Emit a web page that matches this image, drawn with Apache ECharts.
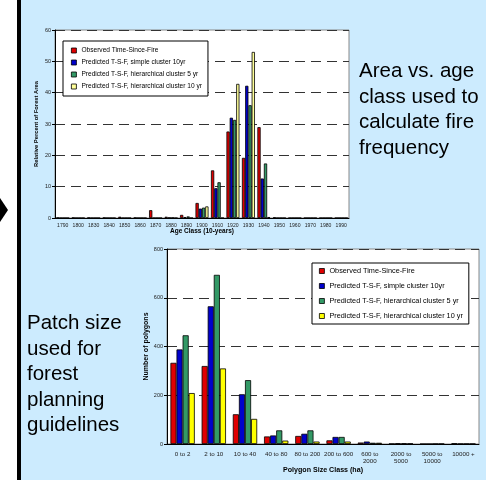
<!DOCTYPE html>
<html>
<head>
<meta charset="utf-8">
<script src="https://cdn.jsdelivr.net/npm/echarts@6/dist/echarts.min.js"></script>
<style>
  html, body { margin: 0; padding: 0; background: #fff; }
  #main { width: 486px; height: 480px; }
</style>
</head>
<body>
<div id="main"></div>
<script>
// age class chart
const ageClasses = ['1790', '1800', '1830', '1840', '1850', '1860', '1870', '1880', '1890', '1900',
  '1910', '1920', '1930', '1940', '1950', '1960', '1970', '1980', '1990'];
const obsAge     = [0.1, 0.1, 0.1, 0.1, 0.4, 0.1, 2.5, 0.4, 1.0, 4.8, 15.2, 27.6, 19.2, 29.0, 0.2, 0, 0, 0, 0];
const simpleAge  = [0, 0, 0, 0, 0, 0, 0, 0.1, 0.3, 3.0, 9.5, 32.0, 42.2, 12.6, 0, 0, 0, 0, 0];
const hier5Age   = [0, 0, 0, 0, 0, 0, 0, 0.1, 0.5, 3.3, 11.4, 31.3, 36.0, 17.4, 0, 0, 0, 0, 0];
const hier10Age  = [0, 0, 0, 0, 0, 0, 0, 0, 0, 3.7, 0, 42.8, 53.0, 0.3, 0, 0, 0, 0, 0];

// polygon size chart
const sizeClasses = ['0 to 2', '2 to 10', '10 to 40', '40 to 80', '80 to 200', '200 to 600',
  '600 to\n2000', '2000 to\n5000', '5000 to\n10000', '10000 +'];
const obsSize    = [333, 320, 122, 31, 33, 15, 6, 1, 0, 3];
const simpleSize = [388, 565, 204, 35, 42, 29, 10, 3, 0, 1];
const hier5Size  = [446, 694, 262, 56, 56, 29, 5, 3, 1, 1];
const hier10Size = [209, 310, 103, 14, 10, 10, 5, 2, 1, 1];

const seriesNames = ['Observed Time-Since-Fire', 'Predicted T-S-F, simple cluster 10yr',
  'Predicted T-S-F, hierarchical cluster 5 yr', 'Predicted T-S-F, hierarchical cluster 10 yr'];

const topText = ['Area vs. age', 'class used to', 'calculate fire', 'frequency'];
const leftText = ['Patch size', 'used for', 'forest', 'planning', 'guidelines'];

const FONT = 'Liberation Sans, Arial, sans-serif';
const RED = '#e00000', BLUE = '#0000cc', GREEN = '#339966';
const topColors = [RED, BLUE, GREEN, '#ffff99'];
const botColors = [RED, BLUE, GREEN, '#ffff00'];

const chart = echarts.init(document.getElementById('main'));

function legendData(colors) {
  return seriesNames.map((n, i) => ({
    name: n,
    icon: 'rect',
    itemStyle: { color: colors[i], borderColor: '#000', borderWidth: 0.8 }
  }));
}

function yAxisCfg(grid, max, interval, name, gap, nameSize) {
  return {
    gridIndex: grid, min: 0, max: max, interval: interval,
    name: name, nameLocation: 'middle', nameGap: gap, nameMoveOverlap: false,
    nameTextStyle: { fontFamily: FONT, fontSize: nameSize, fontWeight: 'bold', color: '#000' },
    axisLine: { show: true, lineStyle: { color: '#000', width: 1 } },
    axisTick: { show: true, length: 3, lineStyle: { color: '#000' } },
    axisLabel: { fontFamily: FONT, fontSize: 5.5, color: '#222', margin: 4 },
    splitLine: { show: true, lineStyle: { color: '#333', width: 1, type: [10, 6] } }
  };
}

function bars(names, datas, colors, xi, catGap) {
  return datas.map((d, i) => ({
    name: names[i], type: 'bar', xAxisIndex: xi, yAxisIndex: xi,
    data: d, barGap: '0%', barCategoryGap: catGap,
    itemStyle: { color: colors[i], borderColor: '#000', borderWidth: 0.8 },
    silent: true
  }));
}

const graphics = [
  { type: 'rect', shape: { x: 0, y: 0, width: 17, height: 480 }, style: { fill: '#fff' } },
  { type: 'rect', shape: { x: 17, y: 0, width: 4, height: 480 }, style: { fill: '#000' } },
  { type: 'polygon', shape: { points: [[-8, 210], [0, 198], [8, 210], [0, 222]] }, style: { fill: '#000' } }
];
topText.forEach((t, i) => graphics.push({
  type: 'text', left: 359, top: 61 + i * 25.5,
  style: { text: t, font: '20.5px ' + FONT, fill: '#000' }
}));
leftText.forEach((t, i) => graphics.push({
  type: 'text', left: 27, top: 313 + i * 25.5,
  style: { text: t, font: '20.5px ' + FONT, fill: '#000' }
}));

chart.setOption({
  backgroundColor: '#ccebfe',
  animation: false,
  textStyle: { fontFamily: FONT },
  grid: [
    { left: 55, top: 30, width: 294, height: 188, show: true, backgroundColor: '#fff', borderColor: '#888', borderWidth: 1 },
    { left: 167, top: 249, width: 312, height: 195, show: true, backgroundColor: '#fff', borderColor: '#888', borderWidth: 1 }
  ],
  legend: [
    {
      left: 63, top: 41, orient: 'vertical', itemWidth: 5, itemHeight: 5, itemGap: 3,
      padding: [5, 6, 5, 8], backgroundColor: '#fff', borderColor: '#000', borderWidth: 1,
      textStyle: { fontFamily: FONT, fontSize: 6.6, color: '#000', lineHeight: 9 },
      data: legendData(topColors), selectedMode: false
    },
    {
      left: 312, top: 263, orient: 'vertical', itemWidth: 5, itemHeight: 5, itemGap: 5,
      padding: [3, 6, 3, 7], backgroundColor: '#fff', borderColor: '#000', borderWidth: 1,
      textStyle: { fontFamily: FONT, fontSize: 7.3, color: '#000', lineHeight: 10 },
      data: legendData(botColors), selectedMode: false
    }
  ],
  xAxis: [
    {
      gridIndex: 0, type: 'category', data: ageClasses,
      name: 'Age Class (10-years)', nameLocation: 'middle', nameGap: 10, nameMoveOverlap: false,
      nameTextStyle: { fontFamily: FONT, fontSize: 6.5, fontWeight: 'bold', color: '#000' },
      axisLine: { lineStyle: { color: '#000', width: 1 } },
      axisTick: { length: 3, lineStyle: { color: '#000' } },
      axisLabel: { fontFamily: FONT, fontSize: 5.1, color: '#222', margin: 5, interval: 0 }
    },
    {
      gridIndex: 1, type: 'category', data: sizeClasses,
      name: 'Polygon Size Class (ha)', nameLocation: 'middle', nameGap: 23, nameMoveOverlap: false,
      nameTextStyle: { fontFamily: FONT, fontSize: 7.1, fontWeight: 'bold', color: '#000' },
      axisLine: { lineStyle: { color: '#000', width: 1 } },
      axisTick: { length: 3, lineStyle: { color: '#000' } },
      axisLabel: { fontFamily: FONT, fontSize: 6.2, color: '#222', margin: 7, interval: 0, lineHeight: 7 }
    }
  ],
  yAxis: [
    yAxisCfg(0, 60, 10, 'Relative Percent of Forest Area', 16, 5.8),
    yAxisCfg(1, 800, 200, 'Number of polygons', 17, 7)
  ],
  series: bars(seriesNames, [obsAge, simpleAge, hier5Age, hier10Age], topColors, 0, '16%')
    .concat(bars(seriesNames, [obsSize, simpleSize, hier5Size, hier10Size], botColors, 1, '22%')),
  graphic: graphics
});
</script>
</body>
</html>
